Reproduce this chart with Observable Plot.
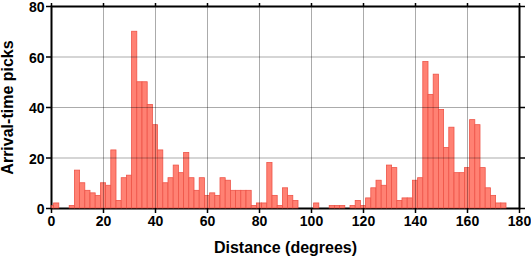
<!DOCTYPE html>
<html><head><meta charset="utf-8">
<script src="https://cdn.jsdelivr.net/npm/d3@7"></script>
<script src="https://cdn.jsdelivr.net/npm/@observablehq/plot@0.6"></script>
<style>html,body{margin:0;padding:0;background:#fff} svg{display:block}</style>
</head><body><div id="chart"></div>
<script>
// Histogram: bins of 2 degrees, centred on the listed distances
const binCenters = [0,2,4,6,8,10,12,14,16,18,20,22,24,26,28,30,32,34,36,38,40,42,44,46,48,50,52,54,56,58,
  60,62,64,66,68,70,72,74,76,78,80,82,84,86,88,90,92,94,96,98,100,102,104,106,108,110,112,114,116,118,
  120,122,124,126,128,130,132,134,136,138,140,142,144,146,148,150,152,154,156,158,160,162,164,166,168,170,172,174,176,178];
const counts = [1,2,0,0,1,15,10,7,6,5,10,9,23,3,12,13,70,50,50,41,33,23,10,12,17,14,22,12,7,12,
  5,6,5,12,11,7,7,7,7,1,2,2,18,5,1,8,5,3,0,0,0,2,0,0,1,1,1,0,1,3,
  1,4,8,11,9,17,16,3,4,4,11,12,58,45,53,39,24,32,14,14,16,35,33,16,8,5,2,2,0,0];
const binWidth = 2;
const xDomain = [0, 180];
const yDomain = [0, 80];
const xTicks = [0,20,40,60,80,100,120,140,160,180];
const yTicks = [0,20,40,60,80];
const xLabel = "Distance (degrees)";
const yLabel = "Arrival-time picks";

const bins = binCenters.map((c, i) => ({
  x1: Math.max(xDomain[0], c - binWidth / 2),
  x2: Math.min(xDomain[1], c + binWidth / 2),
  count: counts[i]
})).filter(d => d.count > 0);

const font = "'Liberation Sans', Arial, Helvetica, sans-serif";
const gridStyle = {stroke: "#000", strokeOpacity: 0.33, strokeWidth: 1};

const chart = Plot.plot({
  width: 531,
  height: 258,
  marginLeft: 51,
  marginRight: 12,
  marginTop: 6,
  marginBottom: 50,
  style: {fontFamily: font, fontWeight: "bold", background: "#fff", color: "#000"},
  x: {domain: xDomain},
  y: {domain: yDomain},
  marks: [
    Plot.frame({stroke: "#000", strokeWidth: 2}),
    Plot.rectY(bins, {x1: "x1", x2: "x2", y: "count", fill: "#ff8173", stroke: "#ee5448", strokeWidth: 0.8, inset: 0}),
    Plot.gridX(xTicks, gridStyle),
    Plot.gridY(yTicks, gridStyle),
    Plot.axisX(xTicks, {anchor: "bottom", tickSize: 5, tickPadding: 3, strokeWidth: 1.5, fontSize: 14, fontWeight: "bold", label: null}),
    Plot.axisY(yTicks, {anchor: "left", tickSize: 5, strokeWidth: 1.5, tickFormat: () => "", label: null}),
    Plot.text(yTicks, {y: d => d, text: d => String(d), frameAnchor: "left", textAnchor: "end", lineAnchor: "middle", dx: -7, dy: 1.5, fontSize: 14, fontWeight: "bold", fill: "#000"}),
    Plot.axisX(xTicks, {anchor: "top", tickSize: 4, strokeWidth: 1.5, tickFormat: () => "", label: null}),
    Plot.axisY(yTicks, {anchor: "right", tickSize: 5, strokeWidth: 1.5, tickFormat: () => "", label: null}),
    Plot.text([xLabel], {frameAnchor: "bottom", textAnchor: "middle", lineAnchor: "middle", dy: 39.5, fontSize: 16, fontWeight: "bold", fill: "#000"}),
    Plot.text([yLabel], {frameAnchor: "left", textAnchor: "middle", lineAnchor: "middle", rotate: -90, dx: -43.3, fontSize: 16, fontWeight: "bold", fill: "#000"})
  ]
});
document.getElementById("chart").appendChild(chart);
</script>
</body></html>
